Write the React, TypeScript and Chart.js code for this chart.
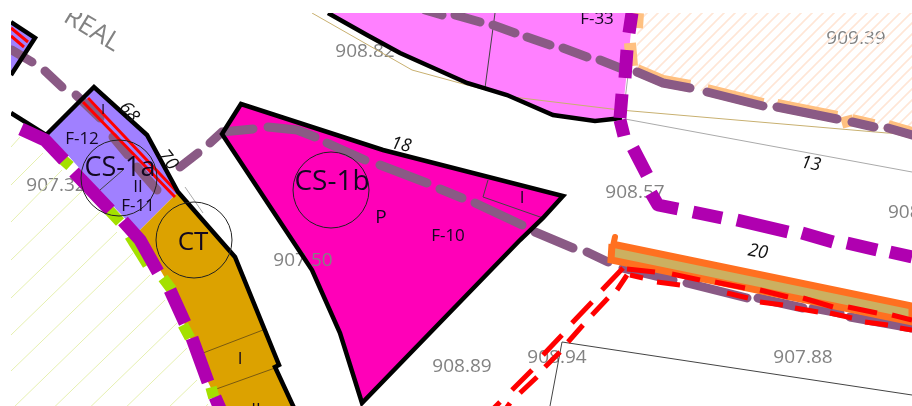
import React, { useEffect, useRef } from "react";
import { Chart, registerables } from "chart.js";

Chart.register(...registerables);

type P = [number, number];

// ---- map features, in map coordinates ----
const cornerParcel: P[] = [[11, 22], [35, 38], [11, 75]];
const cs1aParcel: P[] = [[46, 135], [94, 87], [147, 135], [178, 192], [138, 232], [115, 208], [65, 152]];
const ctParcel: P[] = [[178, 192], [235, 257], [279, 365], [275, 367], [295, 410], [222, 410], [208, 382], [185, 325], [165, 278], [138, 232]];
const f10Parcel: P[] = [[241, 104], [222, 134], [312, 270], [340, 333], [362, 403], [520, 240], [543, 218], [563, 196], [383, 150]];
const f33Parcel: P[] = [[328, 13], [367, 35], [400, 53], [467, 83], [507, 95], [553, 115], [595, 121], [622, 118], [633, 13]];
const peachArea: P[] = [[638, 13], [636, 70], [663, 83], [690, 88], [763, 106], [837, 119], [874, 127], [912, 135], [912, 13]];
const orangeBar: P[] = [[612, 244], [912, 306], [912, 322], [611, 260]];
const orangeNub: P[][] = [[[615, 237], [613, 246]]];

const blackWalls: P[][] = [
  [[11, 22], [35, 38], [11, 75]],
  [[11, 113], [46, 135], [94, 87], [147, 135], [178, 192], [235, 257], [279, 365], [275, 367], [295, 410]],
  [[241, 104], [222, 134], [312, 270], [340, 333], [362, 403], [520, 240], [543, 218], [563, 196], [383, 150], [241, 104], [222, 134]],
  [[328, 13], [367, 35], [400, 53], [467, 83], [507, 95], [553, 115], [595, 121], [622, 118]],
];
const thinDark: P[][] = [
  [[495, 13], [485, 88]],
  [[488, 180], [483, 197], [543, 218]],
  [[562, 342], [912, 395]],
  [[562, 342], [550, 406]],
  [[100, 190], [123, 170]],
];
const ctDividers: P[][] = [[[203, 353], [263, 330]], [[208, 392], [275, 368]]];
const tanLine: P[][] = [[[312, 13], [412, 70], [467, 85], [513, 97], [620, 110], [887, 133], [912, 134]]];
const greyLines: P[][] = [[[625, 119], [912, 172]], [[632, 43], [625, 100]], [[185, 187], [203, 213]]];
const redPair: P[][] = [[[83, 102], [175, 197]], [[88, 98], [178, 193]], [[11, 28], [28, 42]], [[11, 36], [24, 47]]];

const limeBits: P[][] = [
  [[61, 158], [70, 166]],
  [[106, 207], [120, 222]],
  [[163, 278], [172, 290]],
  [[183, 325], [190, 338]],
  [[207, 394], [218, 391]],
];
const limeEdge: P[][] = [[[128, 237], [146, 266]]];

const magentaArc: P[][] = [
  [[21, 129], [45, 140], [64, 160]],
  [[74, 172], [110, 210]],
  [[123, 221], [140, 240], [158, 272]],
  [[170, 290], [185, 323]],
  [[192, 338], [208, 382]],
  [[215, 397], [225, 420]],
];
const magentaRoute: P[][] = [
  [[632, 13], [629, 33]],
  [[627, 50], [625, 78]],
  [[622, 94], [620, 118]],
  [[620, 120], [624, 136]],
  [[633, 148], [647, 175]],
  [[651, 193], [658, 205], [678, 209]],
  [[693, 212], [722, 218]],
  [[737, 220], [788, 232]],
  [[802, 233], [833, 242]],
  [[847, 243], [877, 250]],
  [[890, 252], [912, 257]],
];
const greyPurpleDashes: P[][] = [
  [[12, 50], [32, 62]],
  [[45, 71], [62, 87]],
  [[76, 95], [100, 118]],
  [[113, 137], [128, 155]],
  [[137, 167], [157, 190]],
  [[180, 167], [198, 153]],
  [[210, 143], [222, 132], [253, 129]],
  [[268, 127], [297, 130], [315, 137]],
  [[327, 143], [365, 160]],
  [[380, 165], [427, 183]],
  [[440, 189], [462, 198]],
  [[475, 203], [522, 225]],
  [[535, 232], [573, 248]],
  [[587, 252], [608, 262]],
  [[623, 268], [673, 280]],
  [[687, 283], [747, 298]],
  [[758, 298], [803, 308]],
  [[813, 308], [840, 313]],
  [[850, 317], [912, 328]],
  [[425, 10], [442, 15]],
  [[455, 15], [480, 22]],
  [[493, 25], [515, 33]],
  [[527, 37], [550, 45]],
  [[563, 48], [587, 57]],
  [[600, 60], [620, 68]],
  [[637, 72], [663, 83], [690, 88]],
  [[707, 92], [763, 106]],
  [[777, 107], [837, 119]],
  [[852, 122], [874, 127]],
  [[888, 128], [912, 135]],
];
const peachEdges: P[][] = [
  [[637, 70], [663, 81], [690, 86]],
  [[707, 90], [763, 104]],
  [[777, 105], [837, 117]],
  [[852, 120], [874, 125]],
  [[888, 126], [912, 133]],
  [[630, 43], [632, 66]],
  [[638, 13], [637, 28]],
  [[846, 116], [849, 127]],
];
const redDashes: P[][] = [
  [[623, 268], [602, 290]], [[592, 302], [572, 323]], [[562, 335], [543, 355]], [[532, 370], [512, 390]], [[500, 402], [492, 410]],
  [[627, 275], [617, 290]], [[608, 298], [592, 315]], [[583, 325], [568, 342]], [[560, 352], [545, 367]], [[537, 377], [520, 393]], [[510, 403], [505, 410]],
  [[627, 269], [655, 272]], [[672, 274], [700, 280]], [[715, 282], [745, 288]], [[760, 290], [788, 297]], [[803, 298], [833, 307]], [[848, 307], [877, 313]], [[892, 315], [912, 320]],
  [[630, 275], [643, 278]], [[657, 282], [680, 285]], [[727, 293], [748, 298]], [[760, 302], [783, 305]], [[795, 308], [818, 312]], [[830, 313], [852, 318]], [[865, 322], [888, 325]], [[900, 328], [912, 330]],
];
const limeHatch: P[][] = [
  [[11, 147], [20, 137]],
  [[11, 185], [43, 153]],
  [[11, 222], [62, 170]],
  [[11, 260], [82, 191]],
  [[11, 298], [100, 212]],
  [[11, 335], [117, 232]],
  [[11, 371], [133, 253]],
  [[11, 410], [150, 275]],
  [[11, 449], [165, 300]],
  [[11, 484], [177, 323]],
  [[11, 519], [187, 348]],
  [[11, 560], [197, 380]],
  [[160, 458], [208, 404]],
];
const circleCentres: P[] = [[119, 178], [331, 190], [194, 240]];

// ---- text ----
const heightLabels: [string, number, number][] = [
  ["908.82", 365, 52], ["909.39", 856, 39], ["908.94", 557, 358], ["907.88", 803, 358],
  ["908.89", 462, 367], ["908.57", 635, 193], ["907.32", 56, 186],
];
const lengthLabels: [string, number, number, number][] = [
  ["18", 401, 145, 12], ["13", 811, 164, 10], ["20", 758, 252, 10], ["68", 129, 112, 52], ["70", 168, 160, 52],
];
const zoneLabels: [string, number, number, number][] = [
  ["F-12", 82, 139, 17], ["CS-1a", 120, 168, 27], ["II", 138, 187, 17], ["F-11", 138, 206, 17],
  ["I", 103, 110, 15], ["CT", 193, 243, 26], ["CS-1b", 332, 182, 28], ["P", 381, 218, 19],
  ["F-10", 448, 236, 17], ["I", 522, 198, 17], ["I", 240, 359, 17], ["F-33", 597, 19, 17], ["II", 256, 410, 17],
];

const flat = (segs: P[][]) => {
  const out: ({ x: number; y: number } | { x: null; y: null })[] = [];
  segs.forEach((s, i) => {
    if (i) out.push({ x: null, y: null });
    s.forEach(([x, y]) => out.push({ x, y }));
  });
  return out;
};
const stroke = (label: string, segs: P[][], color: string, width: number, cap: CanvasLineCap = "butt", join: CanvasLineJoin = "round") => ({
  label,
  data: flat(segs),
  showLine: true,
  borderColor: color,
  borderWidth: width,
  borderCapStyle: cap,
  borderJoinStyle: join,
  pointRadius: 0,
  tension: 0,
  fill: false,
  clip: 0,
  spanGaps: false,
});
const area = (label: string, pts: P[], color: any, edge = "transparent", width = 0) => ({
  label,
  data: flat([[...pts, pts[0]]]),
  showLine: true,
  borderColor: edge,
  borderWidth: width,
  backgroundColor: color,
  pointRadius: 0,
  tension: 0,
  fill: "shape",
  clip: 0,
});

const FONT = '"Open Sans", sans-serif';

function hatch() {
  const c = document.createElement("canvas");
  c.width = 11;
  c.height = 11;
  const g = c.getContext("2d")!;
  g.strokeStyle = "#ffe6d6";
  g.lineWidth = 1.6;
  g.beginPath();
  g.moveTo(-2, 13);
  g.lineTo(13, -2);
  g.moveTo(-8, 8);
  g.lineTo(8, -8);
  g.moveTo(3, 19);
  g.lineTo(19, 3);
  g.stroke();
  return g.createPattern(c, "repeat");
}

export default function App() {
  const ref = useRef<HTMLCanvasElement>(null);
  useEffect(() => {
    const text = (chart: any, s: string, x: number, y: number, size: number, color: string, rot = 0, italic = false, align: CanvasTextAlign = "center") => {
      const { ctx, scales, chartArea: a } = chart;
      ctx.save();
      ctx.beginPath();
      ctx.rect(a.left, a.top, a.right - a.left, a.bottom - a.top);
      ctx.clip();
      ctx.translate(scales.x.getPixelForValue(x), scales.y.getPixelForValue(y));
      ctx.rotate((rot * Math.PI) / 180);
      ctx.font = `${italic ? "italic " : ""}${size}px ${FONT}`;
      ctx.fillStyle = color;
      ctx.textAlign = align;
      ctx.textBaseline = "middle";
      ctx.fillText(s, 0, 0);
      ctx.restore();
    };
    const labels = {
      id: "labels",
      beforeDatasetsDraw(chart: any) {
        heightLabels.forEach(([s, x, y]) => text(chart, s, x, y, 19, "#828282"));
        text(chart, "908", 888, 213, 19, "#828282", 0, false, "left");
        text(chart, "REAL", 92, 30, 26, "#828282", 31);
      },
      afterDatasetDraw(chart: any, args: any) {
        if (args.meta.label === "f10 fill") text(chart, "907.50", 303, 261, 19, "#828282");
      },
      afterDatasetsDraw(chart: any) {
        lengthLabels.forEach(([s, x, y, r]) => text(chart, s, x, y, 18, "#111", r, true));
        zoneLabels.forEach(([s, x, y, z]) => text(chart, s, x, y, z, "#120820"));
      },
    };
    const list: any[] = [
      area("peach", peachArea, hatch()),
      stroke("lime hatch", limeHatch, "#e6f0b0", 1),
      area("f33", f33Parcel, "#ff80ff"),
      area("corner", cornerParcel, "#a080ff"),
      area("cs1a", cs1aParcel, "#a080ff"),
      area("ct", ctParcel, "#dca200"),
      area("f10 fill", f10Parcel, "#ff00b8"),
      stroke("tan", tanLine, "#c8b070", 1),
      stroke("grey", greyLines, "#aaaaaa", 1),
      stroke("thin", thinDark, "#444444", 1),
      stroke("ct div", ctDividers, "#7a5a10", 1),
      stroke("lime", limeBits, "#a4e000", 11),
      stroke("lime edge", limeEdge, "#a4e000", 7),
      stroke("peach edge", peachEdges, "#ffc080", 12),
      stroke("grey purple", greyPurpleDashes, "#8a5a85", 9, "round"),
      stroke("orange nub", orangeNub, "#ff7020", 6, "round"),
      area("orange", orangeBar, "#ccb060", "#ff7020", 7),
      stroke("red", redPair, "#ff0000", 3),
      stroke("walls", blackWalls, "#000000", 4.5, "butt", "miter"),
      stroke("magenta arc", magentaArc, "#b000b0", 13),
      stroke("magenta route", magentaRoute, "#b000b0", 13),
      stroke("red dashes", redDashes, "#ff0000", 5),
      {
        label: "circles",
        data: circleCentres.map(([x, y]) => ({ x, y })),
        showLine: false,
        pointRadius: 38,
        pointBorderWidth: 1,
        pointBorderColor: "#222222",
        pointBackgroundColor: "transparent",
        clip: 0,
      },
    ];
    const n = list.length;
    list.forEach((d, i) => (d.order = n - i));
    const chart = new Chart(ref.current!, {
      type: "scatter",
      data: { datasets: list },
      plugins: [labels],
      options: {
        animation: false,
        responsive: false,
        layout: { autoPadding: false, padding: { left: 11, top: 13, right: 0, bottom: 0 } },
        plugins: { legend: { display: false }, tooltip: { enabled: false }, title: { display: false } },
        events: [],
        scales: {
          x: { type: "linear", display: false, min: 11, max: 912 },
          y: { type: "linear", display: false, min: 13, max: 406, reverse: true },
        },
      },
    } as any);
    return () => chart.destroy();
  }, []);
  return (
    <div style={{ position: "absolute", left: 0, top: 0, width: 912, height: 406, background: "#fff" }}>
      <canvas ref={ref} width={912} height={406} style={{ display: "block" }} />
    </div>
  );
}
